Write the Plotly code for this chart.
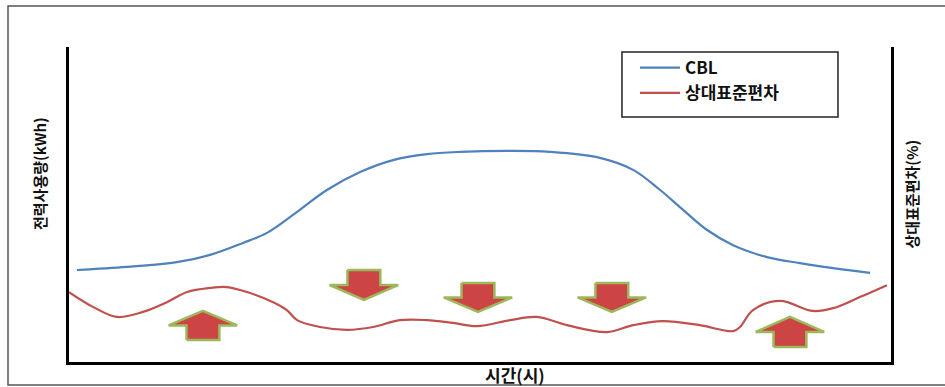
import plotly.graph_objects as go

# CBL (baseline load) profile over the day
cbl_hour = [0.23, 1.69, 3.15, 4.12, 5.08, 5.78, 6.54, 7.53, 8.50, 9.46, 10.45, 11.42,
            12.88, 14.04, 15.50, 16.47, 17.26, 17.93, 18.63, 19.39, 20.38, 21.34, 22.31, 23.39]
cbl_value = [29.2, 30.2, 31.7, 34.0, 37.8, 41.0, 46.7, 54.6, 60.3, 64.1, 66.0, 66.7,
             67.0, 66.7, 64.8, 61.0, 54.6, 48.3, 41.9, 37.1, 33.3, 31.4, 29.8, 28.3]

# Relative standard deviation (%) over the day
rsd_hour = [0.0, 0.70, 1.40, 2.16, 2.86, 3.45, 4.12, 4.61, 5.20, 5.96, 6.36, 6.66, 7.33,
            8.12, 8.88, 9.66, 10.45, 11.21, 11.91, 12.88, 13.66, 14.54, 15.71, 16.47,
            17.34, 18.42, 19.39, 19.59, 19.97, 20.76, 21.72, 22.31, 23.09, 23.88]
rsd_value = [22.2, 17.5, 14.3, 15.9, 19.0, 22.2, 23.5, 23.8, 22.2, 19.0, 16.5, 13.3, 11.1,
             10.2, 11.1, 13.3, 13.3, 12.4, 11.4, 13.3, 14.3, 11.7, 9.5, 11.7,
             13.0, 11.7, 9.8, 11.1, 16.5, 19.4, 16.2, 17.1, 20.6, 24.4]

# Block arrows marking where the deviation rises / falls
arrow_hour = [3.91, 8.61, 11.94, 15.85, 21.05]
arrow_tail = [7.0, 29.2, 25.1, 25.1, 4.8]
arrow_tip = [16.2, 19.7, 15.9, 15.9, 14.3]

series_names = ["CBL", "상대표준편차"]
x_title = "시간(시)"
y_title = "전력사용량(kWh)"
y2_title = "상대표준편차(%)"

BLUE = "#4f81bd"
RED = "#c0504d"
FONT = "Noto Sans CJK KR"


def block_arrow(xc, tail, tip, head_half=1.0, shaft_half=0.48, head_frac=0.5):
    """Polygon of a block arrow pointing from tail to tip."""
    neck = tip - (tip - tail) * head_frac
    xs = [xc - shaft_half, xc - shaft_half, xc - head_half, xc, xc + head_half,
          xc + shaft_half, xc + shaft_half, xc - shaft_half]
    ys = [tail, neck, neck, tip, neck, neck, tail, tail]
    return xs, ys


fig = go.Figure()

fig.add_trace(go.Scatter(
    x=cbl_hour, y=cbl_value, mode="lines", name=series_names[0],
    line=dict(color=BLUE, width=2.2, shape="spline", smoothing=1.0),
    legendgroup="a",
))
fig.add_trace(go.Scatter(
    x=rsd_hour, y=rsd_value, mode="lines", name=series_names[1], yaxis="y2",
    line=dict(color=RED, width=2.2, shape="spline", smoothing=1.0),
    legendgroup="b",
))

for xc, tl, tp in zip(arrow_hour, arrow_tail, arrow_tip):
    ax, ay = block_arrow(xc, tl, tp)
    fig.add_trace(go.Scatter(
        x=ax, y=ay, mode="lines", fill="toself", fillcolor="#cc4444",
        line=dict(color="#9cb85a", width=2.5), showlegend=False, hoverinfo="skip",
    ))

fig.update_layout(
    width=945, height=387,
    margin=dict(l=69, r=54, t=47, b=25),
    paper_bgcolor="white", plot_bgcolor="white",
    font=dict(family=FONT, color="#111111"),
    showlegend=True,
    legend=dict(
        x=0.6886, y=0.990, xanchor="left", yanchor="top",
        borderwidth=0, bgcolor="rgba(0,0,0,0)",
        font=dict(family=FONT, size=17, weight="bold"),
        tracegroupgap=0, itemwidth=40,
    ),
    xaxis=dict(range=[0, 24], showgrid=False, zeroline=False, showticklabels=False,
               ticks="", showline=True, linecolor="black", linewidth=3),
    yaxis=dict(range=[0, 100], showgrid=False, zeroline=False, showticklabels=False,
               ticks="", showline=True, linecolor="black", linewidth=3),
    yaxis2=dict(range=[0, 100], overlaying="y", side="right", showgrid=False,
                zeroline=False, showticklabels=False, ticks="", showline=True,
                linecolor="black", linewidth=3),
    shapes=[
        # outer chart frame
        dict(type="path", xref="paper", yref="paper",
             path="M 1.2,1.130 L -0.0742,1.130 L -0.0742,-0.073 L 1.2,-0.073",
             line=dict(color="#555555", width=1.5)),
        # legend frame
        dict(type="rect", xref="paper", yref="paper", layer="below",
             x0=0.6727, x1=0.9355, y0=0.7778, y1=0.9841,
             line=dict(color="#222222", width=1.5), fillcolor="white"),
    ],
    annotations=[
        dict(text=y_title, xref="paper", yref="paper", x=-0.0365, y=0.60,
             xanchor="center", yanchor="middle",
             textangle=-90, showarrow=False, font=dict(size=15, weight="bold")),
        dict(text=y2_title, xref="paper", yref="paper", x=1.0255, y=0.535,
             xanchor="center", yanchor="middle",
             textangle=-90, showarrow=False, font=dict(size=15, weight="bold")),
        dict(text=x_title, xref="paper", yref="paper", x=0.543, y=-0.039,
             xanchor="center", yanchor="middle", showarrow=False,
             font=dict(size=17, weight="bold")),
    ],
)

fig.write_html("out.html")
